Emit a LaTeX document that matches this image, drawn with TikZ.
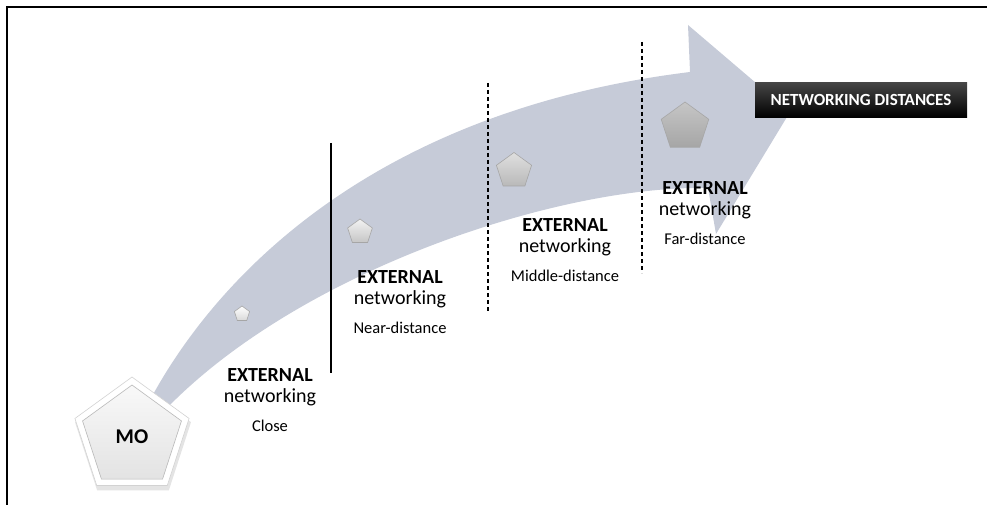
\documentclass[tikz,border=0pt]{standalone}
\usepackage{fontspec}
\setmainfont{Carlito}
\usetikzlibrary{shapes.geometric}
\definecolor{arrowgray}{RGB}{198,203,216}

\begin{document}
\begin{tikzpicture}[x=1pt,y=-1pt,
    penta/.style={regular polygon,regular polygon sides=5,inner sep=0pt,draw=gray!70,line width=0.6pt},
    exttxt/.style={font=\fontsize{20}{22}\selectfont\bfseries,inner sep=0pt},
    nettxt/.style={font=\fontsize{20}{22}\selectfont,inner sep=0pt},
    disttxt/.style={font=\fontsize{16.5}{18}\selectfont,inner sep=0pt},
    sep/.style={line width=1.1pt}]

        \useasboundingbox (0,0) rectangle (987,505);

        % Cornice
        \draw[line width=2pt] (987,7) -- (7,7) -- (7,505);

        % Freccia
        \fill[arrowgray] (150,400) .. controls (220,270) and (380,110) .. (690,72)
            -- (688,25) -- (790,112) -- (716,234) -- (708,188)
            .. controls (560,185) and (300,270) .. (165,410) -- cycle;

        % Separatori
        \draw[sep] (331,143) -- (331,373);
        \draw[sep,dash pattern=on 4pt off 3pt] (488,83) -- (488,313);
        \draw[sep,dash pattern=on 4pt off 3pt] (642,42) -- (642,273);

        % MO
        \node[penta,minimum size=122pt,draw=none,fill=gray!35,opacity=0.6] at (133,441) {};
        \node[penta,minimum size=120pt,fill=white,draw=gray!35] (moframe) at (132,437) {};
        \node[penta,minimum size=104pt,top color=gray!5,bottom color=gray!22,draw=gray!55,
            font=\fontsize{21}{23}\selectfont\bfseries] (mo) at (132,437) {MO};

        % Pentagoni
        \node[penta,minimum size=16pt,top color=white,bottom color=gray!30] (p1) at (242,314) {};
        \node[penta,minimum size=26pt,top color=gray!10,bottom color=gray!45] (p2) at (360,232) {};
        \node[penta,minimum size=37pt,top color=gray!25,bottom color=gray!55] (p3) at (514,171) {};
        \node[penta,minimum size=50pt,top color=gray!45,bottom color=gray!70] (p4) at (685,127) {};

        % Etichette
        \foreach \x/\y/\d/\n in {270/375/Close/1,400/277/Near-distance/2,
                                 565/225/Middle-distance/3,705/188/Far-distance/4} {
            \node[exttxt] (ext\n) at (\x,\y) {EXTERNAL};
            \node[nettxt] (net\n) at (\x,\y+22) {networking};
            \node[disttxt] (dist\n) at (\x,\y+51) {\d};
        }

        % Titolo
        \node[top color=gray!55!black,bottom color=black,text=white,
            font=\fontsize{17}{19}\selectfont\bfseries,
            minimum width=212pt,minimum height=35pt,inner sep=0pt] (title) at (861,100) {NETWORKING DISTANCES};

\end{tikzpicture}
\end{document}
